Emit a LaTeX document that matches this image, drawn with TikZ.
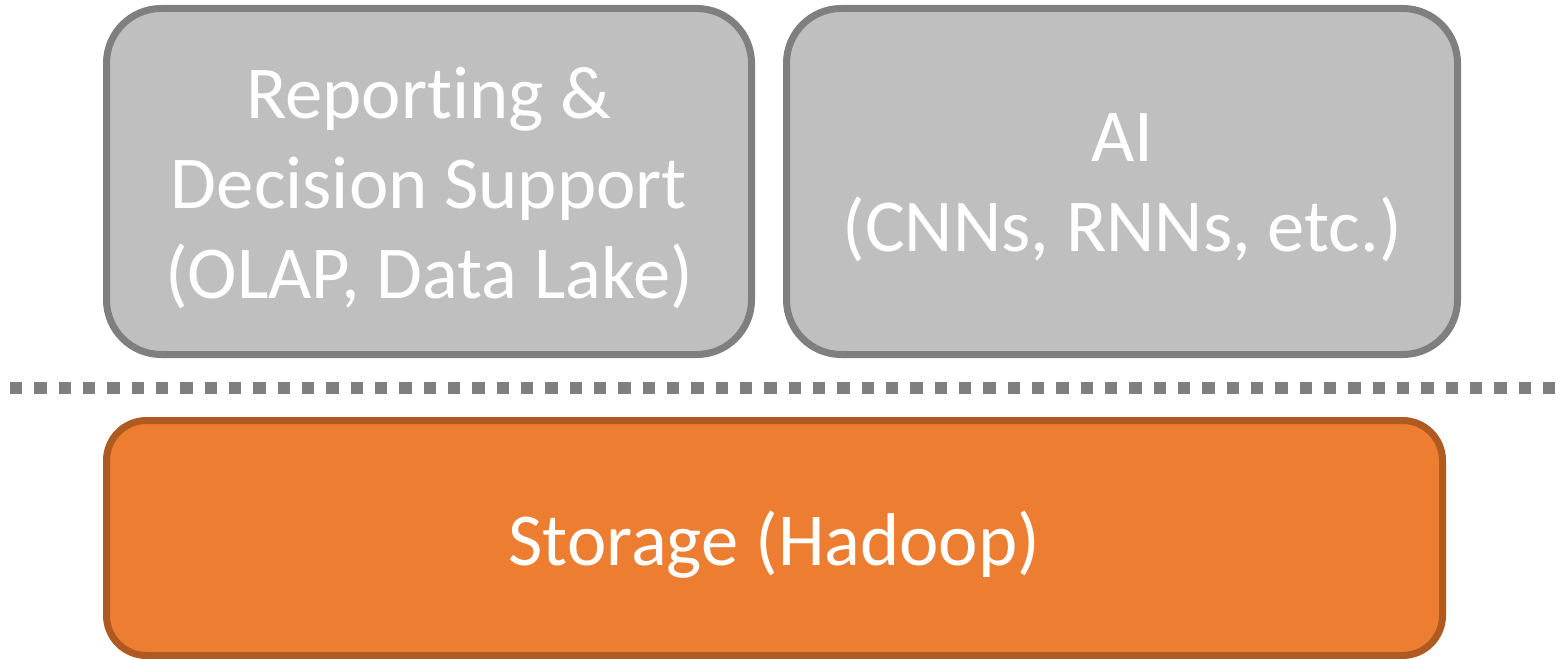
\documentclass[tikz,border=0pt]{standalone}
\usepackage{fontspec}
\setmainfont[Ligatures=NoCommon]{Carlito}
\usetikzlibrary{positioning}

\tikzset{every picture/.style={line width=0.75pt}}
\tikzset{
  layerbox/.style={draw={rgb, 255:red, 127; green, 127; blue, 127}, fill={rgb, 255:red, 191; green, 191; blue, 191}, line width=5.25pt, rounded corners=41pt, inner sep=0pt},
  storebox/.style={draw={rgb, 255:red, 174; green, 90; blue, 33}, fill={rgb, 255:red, 237; green, 125; blue, 49}, line width=5.25pt, rounded corners=30pt, inner sep=0pt},
  boxtext/.style={text=white, align=center, font=\fontsize{56}{67.5}\selectfont, inner sep=0pt, yshift=-4.8pt},
  divider/.style={draw={rgb, 255:red, 127; green, 127; blue, 127}, line width=9.2pt, dash pattern=on 9.2pt off 9.05pt}
}

\begin{document}
\begin{tikzpicture}[x=0.75pt,y=0.75pt,yscale=-1,xscale=1]
	\useasboundingbox (0,0) rectangle (1556,659);

	%Rounded Rect
	\node [layerbox, minimum width=483.75pt, minimum height=259.5pt] (report) at (429,181.5) {};
	%Rounded Rect
	\node [layerbox, minimum width=503.25pt, minimum height=259.5pt] (ai) at (1122,181.5) {};
	%Rounded Rect
	\node [storebox, minimum width=1002pt, minimum height=176.25pt] (storage) at (774.5,538) {};

	%Straight Lines
	\coordinate (divL) at (10,388);
	\coordinate (divR) at (1556,388);
	\draw [divider] (divL) -- (divR);

	% Text Node
	\node [boxtext] (reportText) at (report.center) {Reporting \&\\Decision Support\\(OLAP, Data Lake)};
	% Text Node
	\node [boxtext] (aiText) at (ai.center) {AI\\(CNNs, RNNs, etc.)};
	% Text Node
	\node [boxtext] (storageText) at (storage.center) {Storage (Hadoop)};

\end{tikzpicture}
\end{document}
